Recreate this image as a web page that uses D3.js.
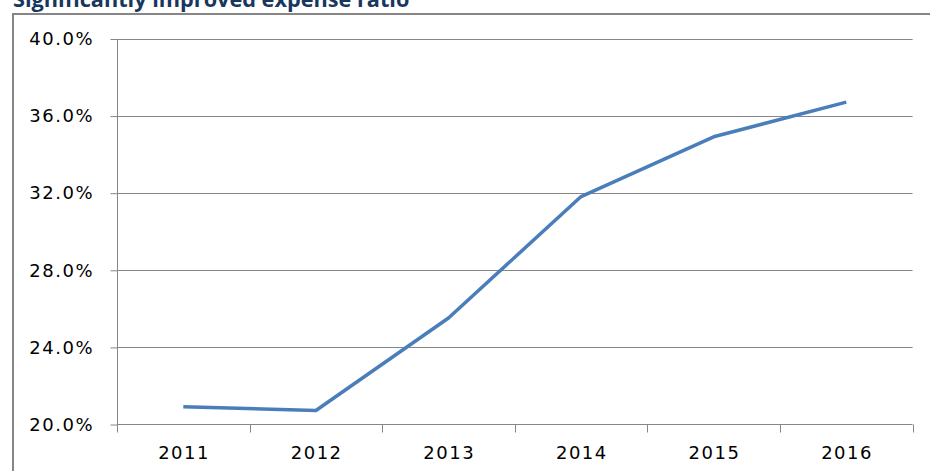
<!DOCTYPE html>
<html>
<head>
<meta charset="utf-8">
<script src="https://d3js.org/d3.v7.min.js"></script>
<style>
  body { margin: 0; background: #fff; }
  svg { display: block; }
</style>
</head>
<body>
<script>
// data
var years = ["2011", "2012", "2013", "2014", "2015", "2016"];
var expenseRatio = [20.9, 20.7, 25.5, 31.8, 34.9, 36.7];
var yTicks = [20, 24, 28, 32, 36, 40];
var title = "Significantly improved expense ratio";

var W = 930, H = 471;
var plot = {left: 117, right: 912.6, top: 38.5, bottom: 424};

var svg = d3.select("body").append("svg").attr("width", W).attr("height", H);

// title, clipped at top like the source
svg.append("text")
  .attr("x", 13).attr("y", 7)
  .attr("font-family", "'Open Sans', sans-serif")
  .attr("font-weight", "bold")
  .attr("font-size", 21.7)
  .attr("fill", "#17375E")
  .text(title);

// outer frame (runs off the right and bottom edges)
svg.append("path")
  .attr("d", "M13,480V14H940")
  .attr("fill", "none").attr("stroke", "#868686").attr("stroke-width", 2);

var x = d3.scaleBand().domain(years).range([plot.left, plot.right]);
var y = d3.scaleLinear().domain([20, 40]).range([plot.bottom, plot.top]);

// gridlines
svg.append("g").selectAll("line").data(yTicks.slice(1)).join("line")
  .attr("x1", plot.left).attr("x2", plot.right)
  .attr("y1", function(d){ return Math.round(y(d)) + 0.5; })
  .attr("y2", function(d){ return Math.round(y(d)) + 0.5; })
  .attr("stroke", "#868686").attr("stroke-width", 1);

// y axis
var yAxis = d3.axisLeft(y).tickValues(yTicks).tickSize(7).tickPadding(16.5)
  .tickFormat(function(d){ return d.toFixed(1) + "%"; });
var gy = svg.append("g").attr("transform", "translate(" + (plot.left + 0.5) + ",0.5)").call(yAxis);

// x axis with ticks between categories
var xAxis = d3.axisBottom(x).tickSize(0).tickPadding(22);
var gx = svg.append("g").attr("transform", "translate(0," + (plot.bottom + 0.5) + ")").call(xAxis);
gx.selectAll(".tick-sep")
  .data(years.map(function(d){ return x(d); }).concat([plot.right]))
  .join("line").attr("class", "tick-sep")
  .attr("x1", function(d){ return Math.round(d) + 0.5; })
  .attr("x2", function(d){ return Math.round(d) + 0.5; })
  .attr("y1", 0).attr("y2", 8)
  .attr("stroke", "#868686");

[gx, gy].forEach(function(g){
  g.select(".domain").attr("stroke", "#868686");
  g.selectAll(".tick line").attr("stroke", "#868686");
  g.selectAll(".tick text")
    .attr("font-family", "'DejaVu Sans', Verdana, sans-serif")
    .attr("font-size", 18)
    .attr("letter-spacing", 1.5)
    .attr("fill", "#000");
});
gx.selectAll(".tick text").attr("dx", 0.75);
gy.select(".domain").attr("d", "M0," + y(40) + "V" + y(20));
gx.select(".domain").attr("d", "M" + plot.left + ",0H" + plot.right);

// the line
var line = d3.line()
  .x(function(d, i){ return x(years[i]) + x.bandwidth() / 2; })
  .y(function(d){ return y(d); });
svg.append("path")
  .datum(expenseRatio)
  .attr("d", line)
  .attr("fill", "none")
  .attr("stroke", "#4A7EBB")
  .attr("stroke-width", 3.5)
  .attr("stroke-linejoin", "round")
  .attr("stroke-linecap", "butt");
</script>
</body>
</html>
